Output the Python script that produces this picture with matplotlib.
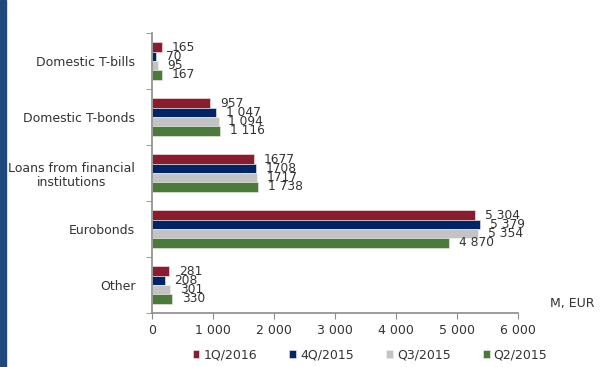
import matplotlib.pyplot as plt
import numpy as np
from matplotlib.patches import Rectangle

categories = ['Domestic T-bills', 'Domestic T-bonds', 'Loans from financial\ninstitutions',
              'Eurobonds', 'Other']
series = ['1Q/2016', '4Q/2015', 'Q3/2015', 'Q2/2015']
q1_2016 = [165, 957, 1677, 5304, 281]
q4_2015 = [70, 1047, 1708, 5379, 208]
q3_2015 = [95, 1094, 1717, 5354, 301]
q2_2015 = [167, 1116, 1738, 4870, 330]
labels_q1_2016 = ['165', '957', '1677', '5 304', '281']
labels_q4_2015 = ['70', '1 047', '1708', '5 379', '208']
labels_q3_2015 = ['95', '1 094', '1717', '5 354', '301']
labels_q2_2015 = ['167', '1 116', '1 738', '4 870', '330']
x_ticks = [0, 1000, 2000, 3000, 4000, 5000, 6000]
x_ticklabels = ['0', '1 000', '2 000', '3 000', '4 000', '5 000', '6 000']

colors = ['#8B1C2E', '#002466', '#C3C3C3', '#4B7A3B']
text_col = '#333333'
axis_col = '#8C8C8C'

fig = plt.figure(figsize=(6, 3.67), dpi=100)
fig.patches.append(Rectangle((0, 0), 6 / 600, 1, transform=fig.transFigure,
                             color='#1F497D', zorder=0))
ax = fig.add_axes([152 / 600, 1 - 313 / 367, (517.7 - 152) / 600, 280 / 367])

values = [q1_2016, q4_2015, q3_2015, q2_2015]
labels = [labels_q1_2016, labels_q4_2015, labels_q3_2015, labels_q2_2015]
y = np.arange(len(categories))
h = 0.166
for i, (vals, labs) in enumerate(zip(values, labels)):
    pos = y - 1.5 * h + i * h
    ax.barh(pos, vals, height=h, color=colors[i], edgecolor='#f2f2f2',
            linewidth=0.4, label=series[i])
    for p, v, t in zip(pos, vals, labs):
        ax.annotate(t, (v, p), xytext=(7, 0), textcoords='offset points',
                    va='center', ha='left', fontsize=8.8, color=text_col)

ax.set_xlim(0, 6000)
ax.set_ylim(4.5, -0.5)
ax.set_xticks(x_ticks)
ax.set_xticklabels(x_ticklabels)
ax.set_yticks(y)
ax.set_yticklabels(categories, ha='right', multialignment='center')
ax.set_yticks(np.arange(-0.5, 5, 1), minor=True)
ax.tick_params(axis='y', which='major', length=0, pad=12, labelsize=9, labelcolor=text_col)
ax.tick_params(axis='y', which='minor', length=4, color=axis_col, direction='out')
ax.tick_params(axis='x', length=4, color=axis_col, labelsize=9, labelcolor=text_col, pad=4)
for s in ['top', 'right']:
    ax.spines[s].set_visible(False)
for s in ['left', 'bottom']:
    ax.spines[s].set_color(axis_col)
    ax.spines[s].set_linewidth(1.2)

fig.text(550 / 600, 1 - 303 / 367, 'M, EUR', fontsize=9, color=text_col,
         ha='left', va='center')

fig.legend(loc='center', bbox_to_anchor=(370 / 600, 1 - 355 / 367), ncol=4,
           frameon=False, fontsize=9, handlelength=0.55, handleheight=0.55,
           handletextpad=0.3, columnspacing=2.6, labelcolor=text_col)

fig.savefig('out.png', dpi=100)
